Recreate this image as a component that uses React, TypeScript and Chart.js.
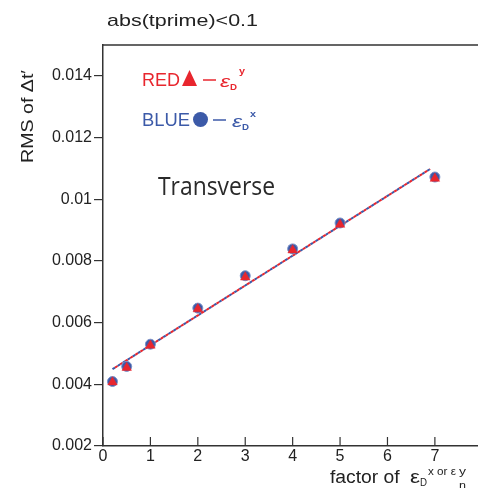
import React, { useEffect, useRef } from "react";
import { Chart, registerables } from "chart.js";

Chart.register(...registerables);

const xTicks = [0, 1, 2, 3, 4, 5, 6, 7, 8];
const yTicks = [0.002, 0.004, 0.006, 0.008, 0.01, 0.012, 0.014];
const xValues = [0.2, 0.5, 1, 2, 3, 4, 5, 7];
const blueValues = [0.00409, 0.00458, 0.0053, 0.00647, 0.00752, 0.00839, 0.00923, 0.01072];
const redValues = [0.00407, 0.00454, 0.00526, 0.00644, 0.00747, 0.00835, 0.00918, 0.01067];
const fitX = [0.2, 6.9];
const fitBlue = [0.00449, 0.01098];
const fitRed = [0.00449, 0.01098];

const RED = "#e8262e";
const BLUE = "#3c5aa8";
const AXIS = "#333333";
const SANS = "'Liberation Sans', Arial, sans-serif";

function txt(ctx: CanvasRenderingContext2D, s: string, x: number, y: number, font: string, color: string, w?: number) {
  ctx.save();
  ctx.font = font;
  ctx.fillStyle = color;
  ctx.textAlign = "left";
  ctx.textBaseline = "alphabetic";
  const m = ctx.measureText(s).width;
  ctx.translate(x, y);
  if (w) ctx.scale(w / m, 1);
  ctx.fillText(s, 0, 0);
  ctx.restore();
}

const decorPlugin = {
  id: "decor",
  afterDraw(chart: any) {
    const ctx: CanvasRenderingContext2D = chart.ctx;
    const a = chart.chartArea;
    const xs = chart.scales.x;
    ctx.save();
    // frame top / right
    ctx.strokeStyle = AXIS;
    ctx.lineWidth = 1.5;
    ctx.beginPath();
    ctx.moveTo(a.left, a.top);
    ctx.lineTo(a.right, a.top);
    ctx.lineTo(a.right, a.bottom);
    ctx.stroke();
    // inward x ticks
    ctx.lineWidth = 1.2;
    xTicks.forEach((v) => {
      const px = xs.getPixelForValue(v);
      ctx.beginPath();
      ctx.moveTo(px, a.bottom);
      ctx.lineTo(px, a.bottom - 9);
      ctx.stroke();
    });
    ctx.restore();

    // title
    txt(ctx, "abs(tprime)<0.1", 107, 26, `17px ${SANS}`, "#222", 151);

    // y axis title (rotated)
    ctx.save();
    ctx.translate(33, 163);
    ctx.rotate(-Math.PI / 2);
    txt(ctx, "RMS of \u0394t\u2032", 0, 0, `17px ${SANS}`, "#222", 93);
    ctx.restore();

    // x axis title
    txt(ctx, "factor of ", 330, 483, `18px ${SANS}`, "#222", 75);
    txt(ctx, "\u03b5", 410, 483, `18px ${SANS}`, "#222", 10);
    txt(ctx, "D", 420, 486, `10px ${SANS}`, "#222", 7);
    txt(ctx, "x or \u03b5", 428, 475, `10px ${SANS}`, "#222", 28);
    txt(ctx, "y", 459, 475, `10px ${SANS}`, "#222", 7);
    txt(ctx, "n", 459, 489, `10px ${SANS}`, "#222", 7);

    // legend text
    txt(ctx, "RED", 142, 86, `18px ${SANS}`, RED, 38);
    ctx.save();
    ctx.fillStyle = RED;
    ctx.beginPath();
    ctx.moveTo(189.5, 70);
    ctx.lineTo(197, 86);
    ctx.lineTo(182, 86);
    ctx.closePath();
    ctx.fill();
    ctx.strokeStyle = RED;
    ctx.lineWidth = 1.5;
    ctx.beginPath();
    ctx.moveTo(203, 80);
    ctx.lineTo(216, 80);
    ctx.stroke();
    ctx.restore();
    txt(ctx, "\u03b5", 220, 87, `italic 17px ${SANS}`, RED, 10);
    txt(ctx, "D", 230, 90, `bold 9px ${SANS}`, RED, 7);
    txt(ctx, "y", 239, 74, `bold 9px ${SANS}`, RED, 6);

    txt(ctx, "BLUE", 142, 126, `18px ${SANS}`, BLUE, 48);
    ctx.save();
    ctx.fillStyle = BLUE;
    ctx.beginPath();
    ctx.arc(200.5, 119.5, 7.5, 0, Math.PI * 2);
    ctx.fill();
    ctx.strokeStyle = BLUE;
    ctx.lineWidth = 1.5;
    ctx.beginPath();
    ctx.moveTo(213, 120);
    ctx.lineTo(226, 120);
    ctx.stroke();
    ctx.restore();
    txt(ctx, "\u03b5", 232, 127, `italic 17px ${SANS}`, BLUE, 10);
    txt(ctx, "D", 242, 130, `bold 9px ${SANS}`, BLUE, 7);
    txt(ctx, "x", 250, 117, `bold 9px ${SANS}`, BLUE, 6);

    // annotation
    txt(ctx, "Transverse", 158, 195, `25px 'Open Sans', sans-serif`, "#2a2a2a", 117);
  },
};

export default function App() {
  const ref = useRef<HTMLCanvasElement | null>(null);

  useEffect(() => {
    if (!ref.current) return;
    const chart = new Chart(ref.current, {
      type: "scatter",
      data: {
        datasets: [
          {
            label: "red",
            data: xValues.map((x, i) => ({ x, y: redValues[i] })),
            pointStyle: "triangle",
            pointRadius: 5.5,
            backgroundColor: RED,
            borderColor: RED,
            borderWidth: 0.5,
            order: 0,
          },
          {
            label: "blue",
            data: xValues.map((x, i) => ({ x, y: blueValues[i] })),
            pointStyle: "circle",
            pointRadius: 5,
            backgroundColor: BLUE,
            borderColor: "#7d93c8",
            borderWidth: 1,
            order: 1,
          },
          {
            label: "fit red",
            data: fitX.map((x, i) => ({ x, y: fitRed[i] })),
            showLine: true,
            pointRadius: 0,
            borderColor: RED,
            borderWidth: 2,
            borderDash: [3, 3],
            borderDashOffset: 3,
            order: 2,
          },
          {
            label: "fit blue",
            data: fitX.map((x, i) => ({ x, y: fitBlue[i] })),
            showLine: true,
            pointRadius: 0,
            borderColor: BLUE,
            borderWidth: 2,
            borderDash: [3, 3],
            order: 3,
          },
        ],
      },
      options: {
        animation: false,
        responsive: false,
        devicePixelRatio: 1,
        layout: { padding: { top: 45, right: 34, left: 0, bottom: 0 } },
        plugins: { legend: { display: false }, tooltip: { enabled: false }, title: { display: false } },
        scales: {
          x: {
            type: "linear",
            min: 0,
            max: 8.5,
            afterBuildTicks: (s: any) => {
              s.ticks = xTicks.map((v) => ({ value: v }));
            },
            afterFit: (s: any) => {
              s.height = 42;
            },
            ticks: {
              font: { family: SANS, size: 16 },
              color: "#222",
              padding: 1,
              maxRotation: 0,
              autoSkip: false,
              callback: (v: any) => String(v),
            },
            grid: { display: true, drawOnChartArea: false, drawTicks: false },
            border: { display: true, color: AXIS, width: 1.5 },
          },
          y: {
            type: "linear",
            min: 0.002,
            max: 0.015,
            afterBuildTicks: (s: any) => {
              s.ticks = yTicks.map((v) => ({ value: v }));
            },
            afterFit: (s: any) => {
              s.width = 103;
            },
            ticks: {
              font: { family: SANS, size: 16 },
              color: "#222",
              padding: 2,
              autoSkip: false,
              callback: (v: any) => String(+Number(v).toFixed(3)),
            },
            grid: { display: true, drawOnChartArea: false, drawTicks: true, tickLength: 9, color: AXIS, lineWidth: 1.2 },
            border: { display: true, color: AXIS, width: 1.5 },
          },
        },
      },
      plugins: [decorPlugin],
    });
    return () => chart.destroy();
  }, []);

  return (
    <div style={{ position: "fixed", left: 0, top: 0, width: 478, height: 488, overflow: "hidden", background: "#fff" }}>
      <canvas ref={ref} width={540} height={488} style={{ display: "block" }} />
    </div>
  );
}
